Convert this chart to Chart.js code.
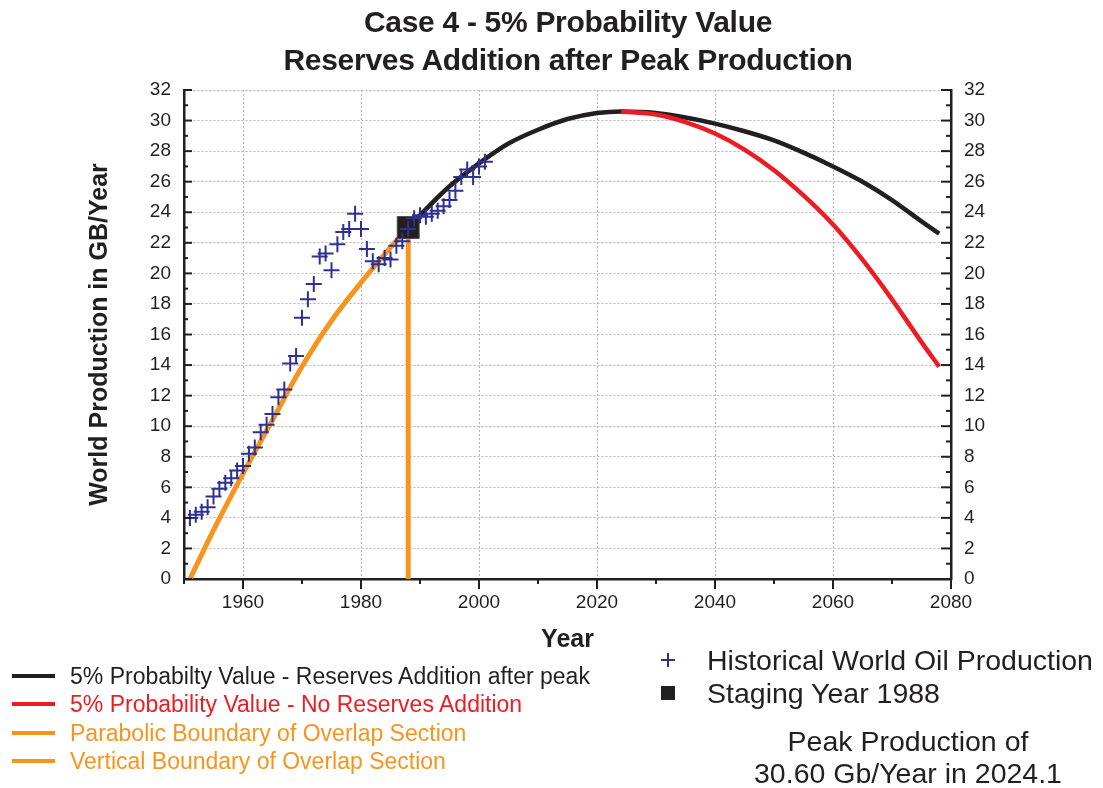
<!DOCTYPE html>
<html>
<head>
<meta charset="utf-8">
<script src="https://cdn.jsdelivr.net/npm/chart.js@4.4.1/dist/chart.umd.min.js"></script>
<style>
  body { margin: 0; background: #fff; font-family: "Liberation Sans", Arial, sans-serif; color: #231f20; }
  #wrap { position: relative; width: 1103px; height: 788px; overflow: hidden; }
  #chart { position: absolute; left: 0; top: 0; }
  .title { position: absolute; left: 0; width: 1136px; text-align: center; font-weight: bold; font-size: 30px; line-height: 38px; letter-spacing: -0.3px; }
  .leg { position: absolute; font-size: 23px; line-height: 28px; white-space: nowrap; }
  .swatch { position: absolute; left: 12px; width: 43px; height: 4px; }
  .big { position: absolute; font-size: 28.5px; line-height: 32px; white-space: nowrap; }
</style>
</head>
<body>
<div id="wrap">
  <canvas id="chart" width="1103" height="788"></canvas>
  <div class="title" style="top:3px">Case 4 - 5% Probability Value</div>
  <div class="title" style="top:41px">Reserves Addition after Peak Production</div>

  <div class="swatch" style="top:674px;background:#231f20"></div>
  <div class="leg" style="left:70px;top:662px;color:#231f20">5% Probabilty Value - Reserves Addition after peak</div>
  <div class="swatch" style="top:702px;background:#ed1c24"></div>
  <div class="leg" style="left:70px;top:690px;color:#ed1c24">5% Probability Value - No Reserves Addition</div>
  <div class="swatch" style="top:731px;background:#f7941d"></div>
  <div class="leg" style="left:70px;top:719px;color:#f7941d">Parabolic Boundary of Overlap Section</div>
  <div class="swatch" style="top:759px;background:#f7941d"></div>
  <div class="leg" style="left:70px;top:747px;color:#f7941d">Vertical Boundary of Overlap Section</div>

  <div style="position:absolute;left:661px;top:659px;width:14px;height:1.5px;background:#2e3192"></div>
  <div style="position:absolute;left:667px;top:653px;width:1.5px;height:14px;background:#2e3192"></div>
  <div class="big" style="left:707px;top:644px">Historical World Oil Production</div>
  <div style="position:absolute;left:661px;top:686px;width:14px;height:14px;background:#231f20"></div>
  <div class="big" style="left:707px;top:677px">Staging Year 1988</div>
  <div class="big" style="left:708px;width:400px;text-align:center;top:725px">Peak Production of</div>
  <div class="big" style="left:708px;width:400px;text-align:center;top:757px">30.60 Gb/Year in 2024.1</div>
</div>
<script>
const histYears = [1951, 1952, 1953, 1954, 1955, 1956, 1957, 1958, 1959, 1960,
  1961, 1962, 1963, 1964, 1965, 1966, 1967, 1968, 1969, 1970,
  1971, 1972, 1973, 1974, 1975, 1976, 1977, 1978, 1979, 1980,
  1981, 1982, 1983, 1984, 1985, 1986, 1987, 1988, 1989, 1990,
  1991, 1992, 1993, 1994, 1995, 1996, 1997, 1998, 1999, 2000, 2001];
const histValues = [4.0, 4.2, 4.4, 4.7, 5.4, 5.9, 6.3, 6.6, 7.1, 7.4,
  8.2, 8.6, 9.6, 10.1, 10.8, 11.9, 12.4, 14.1, 14.6, 17.1,
  18.3, 19.3, 21.1, 21.3, 20.2, 21.9, 22.7, 22.9, 23.9, 22.9,
  21.6, 20.8, 20.6, 21.0, 20.9, 21.8, 22.1, 22.9, 23.6, 23.8,
  23.7, 23.9, 24.1, 24.4, 24.8, 25.4, 26.3, 26.8, 26.3, 27.0, 27.3];

const reservesYears = [1988, 1990, 1995, 2000, 2005, 2010, 2015, 2020, 2024.1, 2030, 2035, 2040, 2045, 2050, 2055, 2060, 2065, 2070, 2075, 2078];
const reservesValues = [23.0, 23.8, 25.7, 27.2, 28.5, 29.4, 30.1, 30.5, 30.6, 30.5, 30.2, 29.8, 29.3, 28.7, 27.9, 27.0, 26.0, 24.8, 23.4, 22.6];

const noReservesYears = [2024.1, 2030, 2035, 2040, 2045, 2050, 2055, 2060, 2065, 2070, 2075, 2078];
const noReservesValues = [30.6, 30.4, 29.9, 29.15, 28.1, 26.75, 25.1, 23.2, 20.9, 18.3, 15.5, 13.9];

const parabolaYears = [1951, 1955, 1960, 1965, 1970, 1975, 1980, 1985, 1988];
const parabolaValues = [0, 3.2, 6.9, 10.4, 13.9, 16.9, 19.4, 21.7, 23.0];

const verticalYears = [1988, 1988];
const verticalValues = [0, 23.0];

const stagingYears = [1988];
const stagingValues = [23.0];

const xTickLabels = [1960, 1980, 2000, 2020, 2040, 2060, 2080];
const xMinorTicks = [1950, 1970, 1990, 2010, 2030, 2050, 2070];
const yTickLabels = [0, 2, 4, 6, 8, 10, 12, 14, 16, 18, 20, 22, 24, 26, 28, 30, 32];
const yMinorTicks = [1, 3, 5, 7, 9, 11, 13, 15, 17, 19, 21, 23, 25, 27, 29, 31];

const FONT = '"Liberation Sans", Arial, sans-serif';
const INK = '#231f20';

const toPoints = (xs, ys) => xs.map((x, i) => ({ x: x, y: ys[i] }));

// tick marks: inward on the value axes, outward on the year axis
const tickMarks = {
  id: 'tickMarks',
  afterDraw(chart) {
    const ctx = chart.ctx;
    const { x, y } = chart.scales;
    const area = chart.chartArea;
    ctx.save();
    ctx.strokeStyle = INK;
    ctx.lineWidth = 2;
    const mark = (x1, y1, x2, y2) => {
      ctx.beginPath();
      ctx.moveTo(x1, y1);
      ctx.lineTo(x2, y2);
      ctx.stroke();
    };
    yTickLabels.forEach(v => {
      const py = y.getPixelForValue(v);
      mark(area.left, py, area.left + 8, py);
      mark(area.right, py, area.right - 10, py);
    });
    yMinorTicks.forEach(v => {
      const py = y.getPixelForValue(v);
      mark(area.left, py, area.left + 4, py);
      mark(area.right, py, area.right - 5, py);
    });
    xTickLabels.forEach(v => {
      const px = x.getPixelForValue(v);
      mark(px, area.bottom, px, area.bottom + 10);
    });
    xMinorTicks.forEach(v => {
      const px = x.getPixelForValue(v);
      mark(px, area.bottom, px, area.bottom + 5);
    });
    ctx.restore();
  }
};

const lineSet = (label, xs, ys, color, width, order) => ({
  label: label,
  data: toPoints(xs, ys),
  showLine: true,
  borderColor: color,
  backgroundColor: color,
  borderWidth: width,
  pointRadius: 0,
  cubicInterpolationMode: 'monotone',
  order: order
});

const plainNumber = v => String(v);

new Chart(document.getElementById('chart'), {
  type: 'scatter',
  data: {
    datasets: [
      {
        label: 'Historical World Oil Production',
        data: toPoints(histYears, histValues),
        pointStyle: 'cross',
        pointRadius: 8,
        borderColor: '#2e3192',
        borderWidth: 2,
        order: 0
      },
      {
        label: 'Staging Year 1988',
        data: toPoints(stagingYears, stagingValues),
        pointStyle: 'rect',
        pointRadius: 15.5,
        backgroundColor: INK,
        borderColor: '#4d4d4d',
        borderWidth: 1,
        order: 1
      },
      lineSet('5% Probability Value - No Reserves Addition', noReservesYears, noReservesValues, '#ed1c24', 4.5, 2),
      lineSet('5% Probabilty Value - Reserves Addition after peak', reservesYears, reservesValues, INK, 4.5, 3),
      lineSet('Parabolic Boundary of Overlap Section', parabolaYears, parabolaValues, '#f7941d', 5, 4),
      lineSet('Vertical Boundary of Overlap Section', verticalYears, verticalValues, '#f7941d', 5, 5)
    ]
  },
  options: {
    responsive: false,
    animation: false,
    devicePixelRatio: 1,
    layout: { padding: { top: 90, left: 0, right: 0, bottom: 129 } },
    plugins: {
      legend: { display: false },
      tooltip: { enabled: false },
      title: { display: false }
    },
    scales: {
      x: {
        type: 'linear',
        position: 'bottom',
        min: 1950,
        max: 2080,
        afterBuildTicks: s => { s.ticks = xTickLabels.map(v => ({ value: v })); },
        afterFit: s => { s.height = 80; },
        grid: { color: '#b5b5b5', lineWidth: 1, drawTicks: false },
        border: { display: true, color: INK, width: 2.5, dash: [2, 2] },
        ticks: { color: INK, font: { family: FONT, size: 19 }, padding: 12, maxRotation: 0, autoSkip: false, callback: plainNumber },
        title: {
          display: true,
          text: 'Year',
          color: INK,
          font: { family: FONT, size: 25, weight: 'bold' },
          padding: { top: 0, bottom: 4 }
        }
      },
      y: {
        type: 'linear',
        position: 'left',
        min: 0,
        max: 32,
        afterBuildTicks: s => { s.ticks = yTickLabels.map(v => ({ value: v })); },
        afterFit: s => { s.width = 184; },
        grid: { color: '#b5b5b5', lineWidth: 1, drawTicks: false },
        border: { display: true, color: INK, width: 2.5, dash: [2, 2] },
        ticks: { color: INK, font: { family: FONT, size: 19 }, padding: 13, autoSkip: false, callback: plainNumber },
        title: {
          display: true,
          text: 'World Production in GB/Year',
          color: INK,
          font: { family: FONT, size: 25, weight: 'bold' },
          padding: { top: 85, bottom: 0 }
        }
      },
      y2: {
        type: 'linear',
        position: 'right',
        min: 0,
        max: 32,
        afterBuildTicks: s => { s.ticks = yTickLabels.map(v => ({ value: v })); },
        afterFit: s => { s.width = 152; },
        grid: { display: false, drawTicks: false },
        border: { display: true, color: INK, width: 2.5 },
        ticks: { color: INK, font: { family: FONT, size: 19 }, padding: 13, autoSkip: false, callback: plainNumber }
      }
    }
  },
  plugins: [tickMarks]
});
</script>
</body>
</html>
